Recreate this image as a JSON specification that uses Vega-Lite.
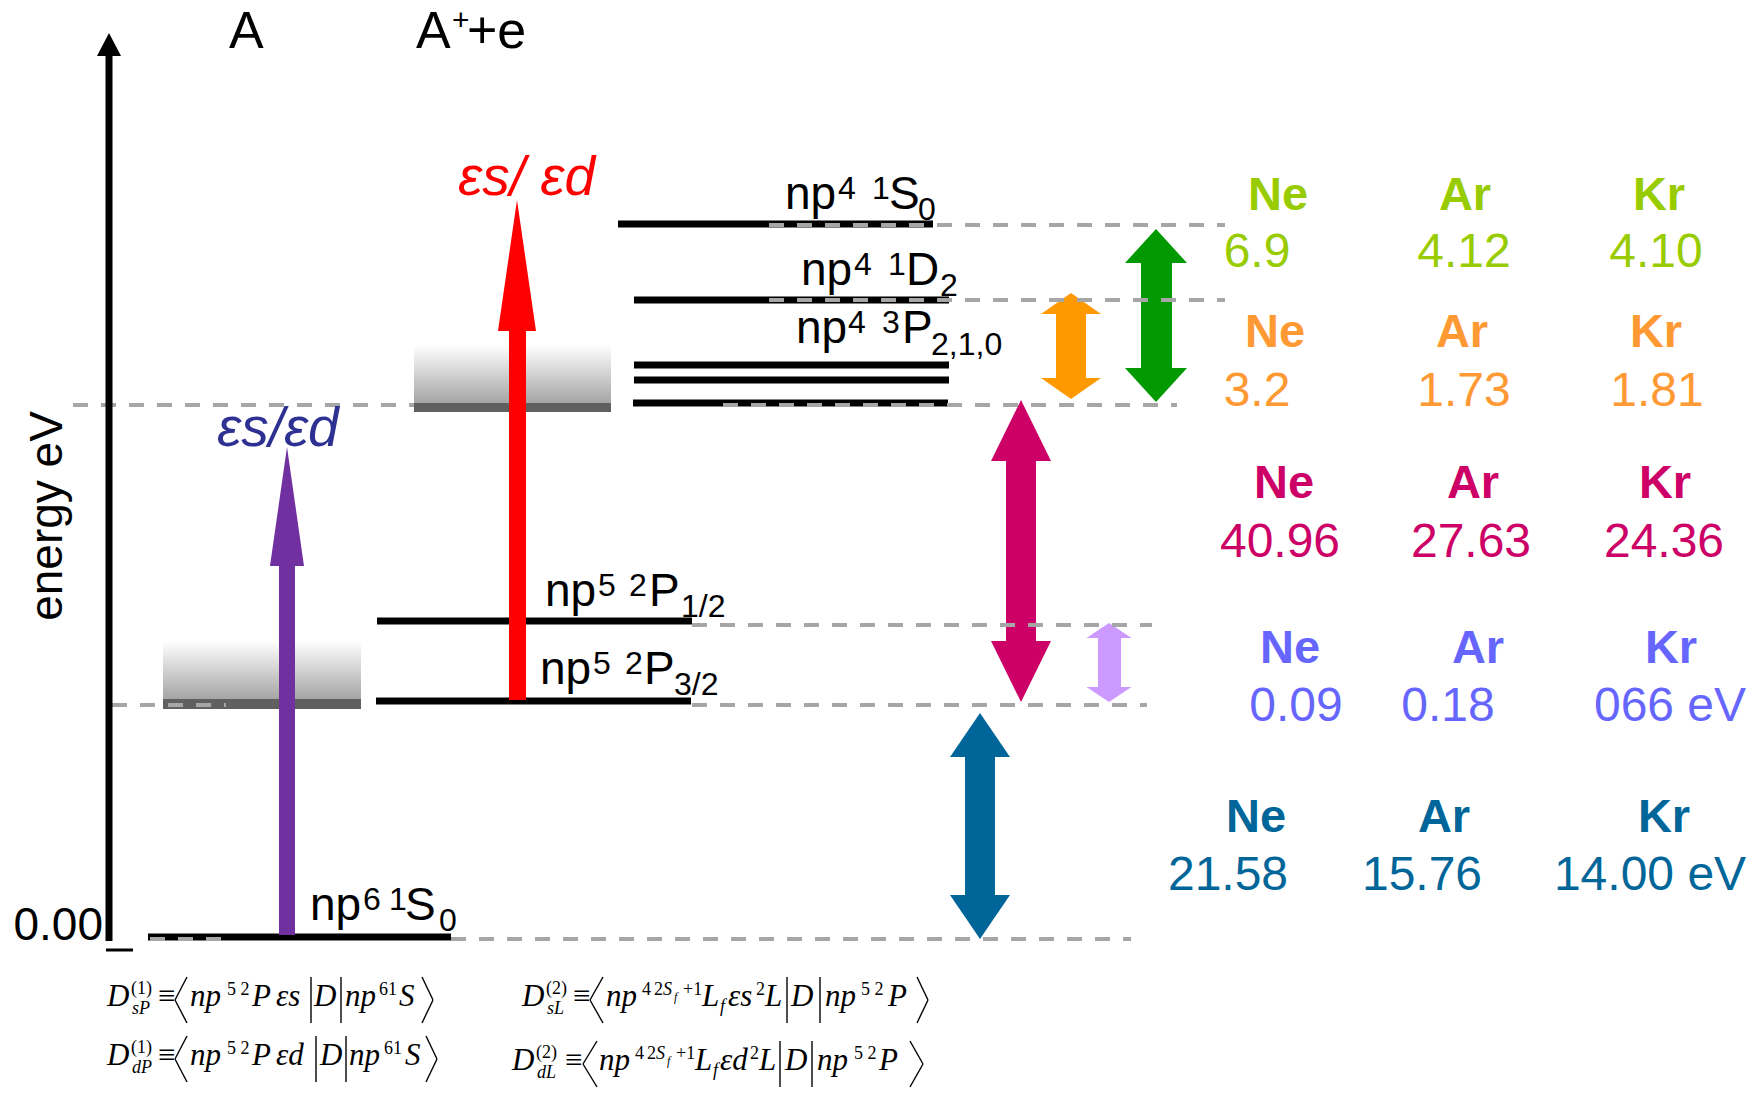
{
  "$schema": "https://vega.github.io/schema/vega-lite/v6.json",
  "width": 1762,
  "height": 1097,
  "autosize": {"type": "fit", "contains": "padding"},
  "padding": 0,
  "background": "white",
  "config": {"view": {"stroke": null}},
  "datasets": {
    "bands": [
      {"x": 414, "x2": 611, "y": 345, "y2": 404},
      {"x": 163, "x2": 361, "y": 641, "y2": 700}
    ],
    "bars": [
      {"x": 414, "x2": 611, "y": 403, "y2": 412},
      {"x": 163, "x2": 361, "y": 699, "y2": 709}
    ],
    "levels": [
      {"state": "np6 1S0", "x": 148, "x2": 451, "y": 937},
      {"state": "np5 2P3/2", "x": 376, "x2": 691, "y": 701},
      {"state": "np5 2P1/2", "x": 377, "x2": 692, "y": 621},
      {"state": "np4 3P0", "x": 633, "x2": 948, "y": 403},
      {"state": "np4 3P1", "x": 634, "x2": 949, "y": 380},
      {"state": "np4 3P2", "x": 634, "x2": 949, "y": 365},
      {"state": "np4 1D2", "x": 634, "x2": 949, "y": 300},
      {"state": "np4 1S0", "x": 618, "x2": 933, "y": 224}
    ],
    "dashes": [
      {"x": 769, "x2": 1225, "y": 225},
      {"x": 769, "x2": 1225, "y": 300},
      {"x": 73, "x2": 414, "y": 405},
      {"x": 723, "x2": 1177, "y": 405},
      {"x": 692, "x2": 1152, "y": 625},
      {"x": 112, "x2": 226, "y": 705},
      {"x": 692, "x2": 1147, "y": 705},
      {"x": 150, "x2": 226, "y": 939},
      {"x": 451, "x2": 1131, "y": 939}
    ],
    "shafts": [
      {"g": "ion1", "x": 279, "x2": 295, "y": 566, "y2": 935},
      {"g": "ion2", "x": 509, "x2": 526, "y": 331, "y2": 700},
      {"g": "S0", "x": 1141, "x2": 1172, "y": 262, "y2": 369},
      {"g": "D2", "x": 1056, "x2": 1086, "y": 313, "y2": 379},
      {"g": "IP2", "x": 1006, "x2": 1036, "y": 460, "y2": 642},
      {"g": "SO", "x": 1098, "x2": 1121, "y": 637, "y2": 688},
      {"g": "IP1", "x": 965, "x2": 995, "y": 756, "y2": 896}
    ],
    "heads": [
      {"id": "p", "g": "ion1", "x": 270, "y": 566, "yb": 566},
      {"id": "p", "g": "ion1", "x": 287, "y": 447, "yb": 566},
      {"id": "p", "g": "ion1", "x": 304, "y": 566, "yb": 566},
      {"id": "r", "g": "ion2", "x": 498, "y": 331, "yb": 331},
      {"id": "r", "g": "ion2", "x": 517, "y": 200, "yb": 331},
      {"id": "r", "g": "ion2", "x": 536, "y": 331, "yb": 331},
      {"id": "gu", "g": "S0", "x": 1125, "y": 263, "yb": 263},
      {"id": "gu", "g": "S0", "x": 1156, "y": 229, "yb": 263},
      {"id": "gu", "g": "S0", "x": 1187, "y": 263, "yb": 263},
      {"id": "gd", "g": "S0", "x": 1125, "y": 368, "yb": 368},
      {"id": "gd", "g": "S0", "x": 1156, "y": 402, "yb": 368},
      {"id": "gd", "g": "S0", "x": 1187, "y": 368, "yb": 368},
      {"id": "ou", "g": "D2", "x": 1041, "y": 314, "yb": 314},
      {"id": "ou", "g": "D2", "x": 1071, "y": 293, "yb": 314},
      {"id": "ou", "g": "D2", "x": 1101, "y": 314, "yb": 314},
      {"id": "od", "g": "D2", "x": 1041, "y": 378, "yb": 378},
      {"id": "od", "g": "D2", "x": 1071, "y": 399, "yb": 378},
      {"id": "od", "g": "D2", "x": 1101, "y": 378, "yb": 378},
      {"id": "mu", "g": "IP2", "x": 991, "y": 461, "yb": 461},
      {"id": "mu", "g": "IP2", "x": 1021, "y": 400, "yb": 461},
      {"id": "mu", "g": "IP2", "x": 1051, "y": 461, "yb": 461},
      {"id": "md", "g": "IP2", "x": 991, "y": 641, "yb": 641},
      {"id": "md", "g": "IP2", "x": 1021, "y": 702, "yb": 641},
      {"id": "md", "g": "IP2", "x": 1051, "y": 641, "yb": 641},
      {"id": "lu", "g": "SO", "x": 1086.5, "y": 638, "yb": 638},
      {"id": "lu", "g": "SO", "x": 1109, "y": 623, "yb": 638},
      {"id": "lu", "g": "SO", "x": 1131.5, "y": 638, "yb": 638},
      {"id": "ld", "g": "SO", "x": 1086.5, "y": 687, "yb": 687},
      {"id": "ld", "g": "SO", "x": 1109, "y": 702, "yb": 687},
      {"id": "ld", "g": "SO", "x": 1131.5, "y": 687, "yb": 687},
      {"id": "bu", "g": "IP1", "x": 950, "y": 757, "yb": 757},
      {"id": "bu", "g": "IP1", "x": 980, "y": 713, "yb": 757},
      {"id": "bu", "g": "IP1", "x": 1010, "y": 757, "yb": 757},
      {"id": "bd", "g": "IP1", "x": 950, "y": 895, "yb": 895},
      {"id": "bd", "g": "IP1", "x": 980, "y": 939, "yb": 895},
      {"id": "bd", "g": "IP1", "x": 1010, "y": 895, "yb": 895}
    ],
    "axisShaft": [{"x": 105.5, "x2": 112.5, "y": 55, "y2": 941}],
    "axisHead": [
      {"id": "ax", "x": 97, "y": 56, "yb": 56},
      {"id": "ax", "x": 109, "y": 33, "yb": 56},
      {"id": "ax", "x": 121, "y": 56, "yb": 56}
    ],
    "tick": [{"x": 106, "x2": 133, "y": 950}],
    "title": [
      {"t": "A", "x": 229, "y": 48},
      {"t": "A", "x": 416, "y": 48},
      {"t": "+e", "x": 467, "y": 48}
    ],
    "titleSup": [{"t": "+", "x": 452, "y": 30}],
    "lab": [
      {"t": "np", "x": 310, "y": 920}, {"t": "S", "x": 405, "y": 920},
      {"t": "np", "x": 545, "y": 606}, {"t": "P", "x": 649, "y": 606},
      {"t": "np", "x": 540, "y": 684}, {"t": "P", "x": 644, "y": 684},
      {"t": "np", "x": 785, "y": 209}, {"t": "S", "x": 889, "y": 209},
      {"t": "np", "x": 801, "y": 285}, {"t": "D", "x": 906, "y": 285},
      {"t": "np", "x": 796, "y": 343}, {"t": "P", "x": 902, "y": 343}
    ],
    "labSup": [
      {"t": "6", "x": 363, "y": 910}, {"t": "1", "x": 389, "y": 910},
      {"t": "5", "x": 598, "y": 596}, {"t": "2", "x": 629, "y": 596},
      {"t": "5", "x": 593, "y": 674}, {"t": "2", "x": 625, "y": 674},
      {"t": "4", "x": 838, "y": 199}, {"t": "1", "x": 872, "y": 199},
      {"t": "4", "x": 854, "y": 275}, {"t": "1", "x": 888, "y": 275},
      {"t": "4", "x": 848, "y": 333}, {"t": "3", "x": 882, "y": 333}
    ],
    "labSub": [
      {"t": "0", "x": 439, "y": 931},
      {"t": "1/2", "x": 681, "y": 617},
      {"t": "3/2", "x": 674, "y": 695},
      {"t": "0", "x": 918, "y": 220},
      {"t": "2", "x": 940, "y": 296},
      {"t": "2,1,0", "x": 931, "y": 355}
    ],
    "eps": [
      {"t": "εs/ εd", "x": 458, "y": 195, "g": "eps2 text"},
      {"t": "εs/εd", "x": 217, "y": 446, "g": "eps1 text"}
    ],
    "hdr": [
      {"t": "Ne", "x": 1278, "y": 210, "g": "S0 text"}, {"t": "Ar", "x": 1465, "y": 210, "g": "S0 text"}, {"t": "Kr", "x": 1659, "y": 210, "g": "S0 text"},
      {"t": "Ne", "x": 1275, "y": 347, "g": "D2 text"}, {"t": "Ar", "x": 1462, "y": 347, "g": "D2 text"}, {"t": "Kr", "x": 1656, "y": 347, "g": "D2 text"},
      {"t": "Ne", "x": 1284, "y": 498, "g": "IP2 text"}, {"t": "Ar", "x": 1473, "y": 498, "g": "IP2 text"}, {"t": "Kr", "x": 1665, "y": 498, "g": "IP2 text"},
      {"t": "Ne", "x": 1290, "y": 663, "g": "SO text"}, {"t": "Ar", "x": 1478, "y": 663, "g": "SO text"}, {"t": "Kr", "x": 1671, "y": 663, "g": "SO text"},
      {"t": "Ne", "x": 1256, "y": 832, "g": "IP1 text"}, {"t": "Ar", "x": 1444, "y": 832, "g": "IP1 text"}, {"t": "Kr", "x": 1664, "y": 832, "g": "IP1 text"}
    ],
    "vals": [
      {"t": "6.9", "x": 1257, "y": 267, "g": "S0 text"}, {"t": "4.12", "x": 1464, "y": 267, "g": "S0 text"}, {"t": "4.10", "x": 1656, "y": 267, "g": "S0 text"},
      {"t": "3.2", "x": 1257, "y": 406, "g": "D2 text"}, {"t": "1.73", "x": 1464, "y": 406, "g": "D2 text"}, {"t": "1.81", "x": 1657, "y": 406, "g": "D2 text"},
      {"t": "40.96", "x": 1280, "y": 557, "g": "IP2 text"}, {"t": "27.63", "x": 1471, "y": 557, "g": "IP2 text"}, {"t": "24.36", "x": 1664, "y": 557, "g": "IP2 text"},
      {"t": "0.09", "x": 1296, "y": 721, "g": "SO text"}, {"t": "0.18", "x": 1448, "y": 721, "g": "SO text"}, {"t": "066 eV", "x": 1670, "y": 721, "g": "SO text"},
      {"t": "21.58", "x": 1228, "y": 890, "g": "IP1 text"}, {"t": "15.76", "x": 1422, "y": 890, "g": "IP1 text"}, {"t": "14.00 eV", "x": 1650, "y": 890, "g": "IP1 text"}
    ],
    "zero": [{"t": "0.00", "x": 103, "y": 940}],
    "ylab": [{"t": "energy eV", "x": 62, "y": 516}],
    "fBase": [
      {"t": "D", "x": 107, "y": 1006}, {"t": "np", "x": 190, "y": 1006}, {"t": "P", "x": 252, "y": 1006}, {"t": "εs", "x": 276, "y": 1006}, {"t": "D", "x": 314, "y": 1006}, {"t": "np", "x": 345, "y": 1006}, {"t": "S", "x": 399, "y": 1006},
      {"t": "D", "x": 107, "y": 1065}, {"t": "np", "x": 190, "y": 1065}, {"t": "P", "x": 252, "y": 1065}, {"t": "εd", "x": 276, "y": 1065}, {"t": "D", "x": 320, "y": 1065}, {"t": "np", "x": 349, "y": 1065}, {"t": "S", "x": 405, "y": 1065},
      {"t": "D", "x": 522, "y": 1006}, {"t": "np", "x": 606, "y": 1006}, {"t": "L", "x": 702, "y": 1006}, {"t": "εs", "x": 728, "y": 1006}, {"t": "L", "x": 765, "y": 1006}, {"t": "D", "x": 791, "y": 1006}, {"t": "np", "x": 825, "y": 1006}, {"t": "P", "x": 888, "y": 1006},
      {"t": "D", "x": 512, "y": 1070}, {"t": "np", "x": 599, "y": 1070}, {"t": "L", "x": 695, "y": 1070}, {"t": "εd", "x": 720, "y": 1070}, {"t": "L", "x": 759, "y": 1070}, {"t": "D", "x": 785, "y": 1070}, {"t": "np", "x": 817, "y": 1070}, {"t": "P", "x": 879, "y": 1070}
    ],
    "fEq": [
      {"t": "≡", "x": 158, "y": 1006}, {"t": "≡", "x": 158, "y": 1065},
      {"t": "≡", "x": 573, "y": 1006}, {"t": "≡", "x": 565, "y": 1070}
    ],
    "fSupUp": [
      {"t": "(1)", "x": 131, "y": 994}, {"t": "5 2", "x": 227, "y": 995}, {"t": "61", "x": 379, "y": 995},
      {"t": "(1)", "x": 131, "y": 1053}, {"t": "5 2", "x": 227, "y": 1054}, {"t": "61", "x": 384, "y": 1054},
      {"t": "(2)", "x": 546, "y": 994}, {"t": "4", "x": 642, "y": 995}, {"t": "2", "x": 654, "y": 995}, {"t": "+1", "x": 683, "y": 995}, {"t": "2", "x": 756, "y": 995}, {"t": "5 2", "x": 861, "y": 995},
      {"t": "(2)", "x": 536, "y": 1058}, {"t": "4", "x": 635, "y": 1059}, {"t": "2", "x": 647, "y": 1059}, {"t": "+1", "x": 676, "y": 1059}, {"t": "2", "x": 750, "y": 1059}, {"t": "5 2", "x": 854, "y": 1059}
    ],
    "fScrIt": [
      {"t": "sP", "x": 132, "y": 1014}, {"t": "dP", "x": 132, "y": 1073},
      {"t": "sL", "x": 547, "y": 1014}, {"t": "dL", "x": 537, "y": 1078},
      {"t": "S", "x": 663, "y": 995}, {"t": "S", "x": 656, "y": 1059},
      {"t": "f", "x": 720, "y": 1012}, {"t": "f", "x": 713, "y": 1076}
    ],
    "fSubSub": [
      {"t": "f", "x": 674, "y": 1001}, {"t": "f", "x": 667, "y": 1065}
    ],
    "fRules": [
      {"x": 187, "y": 977, "x2": 175, "y2": 1000}, {"x": 175, "y": 1000, "x2": 187, "y2": 1023},
      {"x": 311, "y": 977, "x2": 311, "y2": 1023}, {"x": 341, "y": 977, "x2": 341, "y2": 1023},
      {"x": 422, "y": 977, "x2": 433, "y2": 1000}, {"x": 433, "y": 1000, "x2": 422, "y2": 1023},
      {"x": 187, "y": 1036, "x2": 175, "y2": 1059}, {"x": 175, "y": 1059, "x2": 187, "y2": 1082},
      {"x": 316, "y": 1036, "x2": 316, "y2": 1082}, {"x": 346, "y": 1036, "x2": 346, "y2": 1082},
      {"x": 426, "y": 1036, "x2": 437, "y2": 1059}, {"x": 437, "y": 1059, "x2": 426, "y2": 1082},
      {"x": 603, "y": 977, "x2": 590, "y2": 1000}, {"x": 590, "y": 1000, "x2": 603, "y2": 1023},
      {"x": 787, "y": 977, "x2": 787, "y2": 1023}, {"x": 820, "y": 977, "x2": 820, "y2": 1023},
      {"x": 917, "y": 977, "x2": 928, "y2": 1000}, {"x": 928, "y": 1000, "x2": 917, "y2": 1023},
      {"x": 597, "y": 1041, "x2": 583, "y2": 1064}, {"x": 583, "y": 1064, "x2": 597, "y2": 1087},
      {"x": 780, "y": 1041, "x2": 780, "y2": 1087}, {"x": 812, "y": 1041, "x2": 812, "y2": 1087},
      {"x": 910, "y": 1041, "x2": 923, "y2": 1064}, {"x": 923, "y": 1064, "x2": 910, "y2": 1087}
    ]
  },
  "encoding": {
    "x": {"field": "x", "type": "quantitative", "axis": null, "scale": {"domain": [0, 1762], "nice": false, "zero": false}},
    "y": {"field": "y", "type": "quantitative", "axis": null, "stack": null, "scale": {"domain": [0, 1097], "reverse": true, "nice": false, "zero": false}}
  },
  "layer": [
    {
      "data": {"name": "bands"},
      "mark": {"type": "rect", "fill": {"gradient": "linear", "x1": 0, "y1": 0, "x2": 0, "y2": 1, "stops": [{"offset": 0, "color": "#ffffff"}, {"offset": 1, "color": "#a3a3a3"}]}},
      "encoding": {"x2": {"field": "x2"}, "y2": {"field": "y2"}}
    },
    {
      "data": {"name": "bars"},
      "mark": {"type": "rect", "color": "#606060"},
      "encoding": {"x2": {"field": "x2"}, "y2": {"field": "y2"}}
    },
    {
      "data": {"name": "levels"},
      "mark": {"type": "rule", "strokeWidth": 7, "color": "#000000", "strokeCap": "butt"},
      "encoding": {"x2": {"field": "x2"}}
    },
    {
      "data": {"name": "shafts"},
      "mark": {"type": "rect"},
      "encoding": {
        "x2": {"field": "x2"}, "y2": {"field": "y2"},
        "color": {"field": "g", "type": "nominal", "legend": null, "scale": {"domain": ["ion1", "ion2", "S0", "D2", "IP2", "SO", "IP1", "S0 text", "D2 text", "IP2 text", "SO text", "IP1 text", "eps1 text", "eps2 text"], "range": ["#7030A0", "#FF0000", "#009900", "#FF9900", "#CC0066", "#CC99FF", "#006699", "#99CC00", "#FF9933", "#CC0066", "#6666FF", "#006699", "#2E3192", "#FF0000"]}}
      }
    },
    {
      "data": {"name": "heads"},
      "mark": {"type": "area", "interpolate": "linear"},
      "encoding": {
        "y2": {"field": "yb"},
        "detail": {"field": "id", "type": "nominal"},
        "color": {"field": "g", "type": "nominal", "legend": null, "scale": {"domain": ["ion1", "ion2", "S0", "D2", "IP2", "SO", "IP1", "S0 text", "D2 text", "IP2 text", "SO text", "IP1 text", "eps1 text", "eps2 text"], "range": ["#7030A0", "#FF0000", "#009900", "#FF9900", "#CC0066", "#CC99FF", "#006699", "#99CC00", "#FF9933", "#CC0066", "#6666FF", "#006699", "#2E3192", "#FF0000"]}}
      }
    },
    {
      "data": {"name": "dashes"},
      "mark": {"type": "rule", "strokeWidth": 4, "color": "#A6A6A6", "strokeDash": [15, 13], "strokeCap": "butt"},
      "encoding": {"x2": {"field": "x2"}}
    },
    {
      "data": {"name": "axisShaft"},
      "mark": {"type": "rect", "color": "#000000"},
      "encoding": {"x2": {"field": "x2"}, "y2": {"field": "y2"}}
    },
    {
      "data": {"name": "axisHead"},
      "mark": {"type": "area", "color": "#000000"},
      "encoding": {"y2": {"field": "yb"}, "detail": {"field": "id", "type": "nominal"}}
    },
    {
      "data": {"name": "tick"},
      "mark": {"type": "rule", "strokeWidth": 3, "color": "#000000"},
      "encoding": {"x2": {"field": "x2"}}
    },
    {
      "data": {"name": "title"},
      "mark": {"type": "text", "font": "Liberation Sans", "fontSize": 52, "align": "left", "baseline": "alphabetic", "color": "#000000"},
      "encoding": {"text": {"field": "t"}}
    },
    {
      "data": {"name": "titleSup"},
      "mark": {"type": "text", "font": "Liberation Sans", "fontSize": 30, "align": "left", "baseline": "alphabetic", "color": "#000000"},
      "encoding": {"text": {"field": "t"}}
    },
    {
      "data": {"name": "lab"},
      "mark": {"type": "text", "font": "Liberation Sans", "fontSize": 46, "align": "left", "baseline": "alphabetic", "color": "#000000"},
      "encoding": {"text": {"field": "t"}}
    },
    {
      "data": {"name": "labSup"},
      "mark": {"type": "text", "font": "Liberation Sans", "fontSize": 32, "align": "left", "baseline": "alphabetic", "color": "#000000"},
      "encoding": {"text": {"field": "t"}}
    },
    {
      "data": {"name": "labSub"},
      "mark": {"type": "text", "font": "Liberation Sans", "fontSize": 32, "align": "left", "baseline": "alphabetic", "color": "#000000"},
      "encoding": {"text": {"field": "t"}}
    },
    {
      "data": {"name": "eps"},
      "mark": {"type": "text", "font": "Liberation Sans", "fontSize": 55, "fontStyle": "italic", "align": "left", "baseline": "alphabetic"},
      "encoding": {
        "text": {"field": "t"},
        "color": {"field": "g", "type": "nominal", "legend": null, "scale": {"domain": ["ion1", "ion2", "S0", "D2", "IP2", "SO", "IP1", "S0 text", "D2 text", "IP2 text", "SO text", "IP1 text", "eps1 text", "eps2 text"], "range": ["#7030A0", "#FF0000", "#009900", "#FF9900", "#CC0066", "#CC99FF", "#006699", "#99CC00", "#FF9933", "#CC0066", "#6666FF", "#006699", "#2E3192", "#FF0000"]}}
      }
    },
    {
      "data": {"name": "hdr"},
      "mark": {"type": "text", "font": "Liberation Sans", "fontSize": 47, "fontWeight": "bold", "align": "center", "baseline": "alphabetic"},
      "encoding": {
        "text": {"field": "t"},
        "color": {"field": "g", "type": "nominal", "legend": null, "scale": {"domain": ["ion1", "ion2", "S0", "D2", "IP2", "SO", "IP1", "S0 text", "D2 text", "IP2 text", "SO text", "IP1 text", "eps1 text", "eps2 text"], "range": ["#7030A0", "#FF0000", "#009900", "#FF9900", "#CC0066", "#CC99FF", "#006699", "#99CC00", "#FF9933", "#CC0066", "#6666FF", "#006699", "#2E3192", "#FF0000"]}}
      }
    },
    {
      "data": {"name": "vals"},
      "mark": {"type": "text", "font": "Liberation Sans", "fontSize": 48, "align": "center", "baseline": "alphabetic"},
      "encoding": {
        "text": {"field": "t"},
        "color": {"field": "g", "type": "nominal", "legend": null, "scale": {"domain": ["ion1", "ion2", "S0", "D2", "IP2", "SO", "IP1", "S0 text", "D2 text", "IP2 text", "SO text", "IP1 text", "eps1 text", "eps2 text"], "range": ["#7030A0", "#FF0000", "#009900", "#FF9900", "#CC0066", "#CC99FF", "#006699", "#99CC00", "#FF9933", "#CC0066", "#6666FF", "#006699", "#2E3192", "#FF0000"]}}
      }
    },
    {
      "data": {"name": "zero"},
      "mark": {"type": "text", "font": "Liberation Sans", "fontSize": 46, "align": "right", "baseline": "alphabetic", "color": "#000000"},
      "encoding": {"text": {"field": "t"}}
    },
    {
      "data": {"name": "ylab"},
      "mark": {"type": "text", "font": "Liberation Sans", "fontSize": 46, "angle": 270, "align": "center", "baseline": "alphabetic", "color": "#000000"},
      "encoding": {"text": {"field": "t"}}
    },
    {
      "data": {"name": "fBase"},
      "mark": {"type": "text", "font": "Liberation Serif", "fontSize": 31, "fontStyle": "italic", "align": "left", "baseline": "alphabetic", "color": "#000000"},
      "encoding": {"text": {"field": "t"}}
    },
    {
      "data": {"name": "fEq"},
      "mark": {"type": "text", "font": "Liberation Serif", "fontSize": 31, "align": "left", "baseline": "alphabetic", "color": "#000000"},
      "encoding": {"text": {"field": "t"}}
    },
    {
      "data": {"name": "fSupUp"},
      "mark": {"type": "text", "font": "Liberation Serif", "fontSize": 18, "align": "left", "baseline": "alphabetic", "color": "#000000"},
      "encoding": {"text": {"field": "t"}}
    },
    {
      "data": {"name": "fScrIt"},
      "mark": {"type": "text", "font": "Liberation Serif", "fontSize": 18, "fontStyle": "italic", "align": "left", "baseline": "alphabetic", "color": "#000000"},
      "encoding": {"text": {"field": "t"}}
    },
    {
      "data": {"name": "fSubSub"},
      "mark": {"type": "text", "font": "Liberation Serif", "fontSize": 12, "fontStyle": "italic", "align": "left", "baseline": "alphabetic", "color": "#000000"},
      "encoding": {"text": {"field": "t"}}
    },
    {
      "data": {"name": "fRules"},
      "mark": {"type": "rule", "strokeWidth": 1.4, "color": "#000000"},
      "encoding": {"x2": {"field": "x2"}, "y2": {"field": "y2"}}
    }
  ]
}
